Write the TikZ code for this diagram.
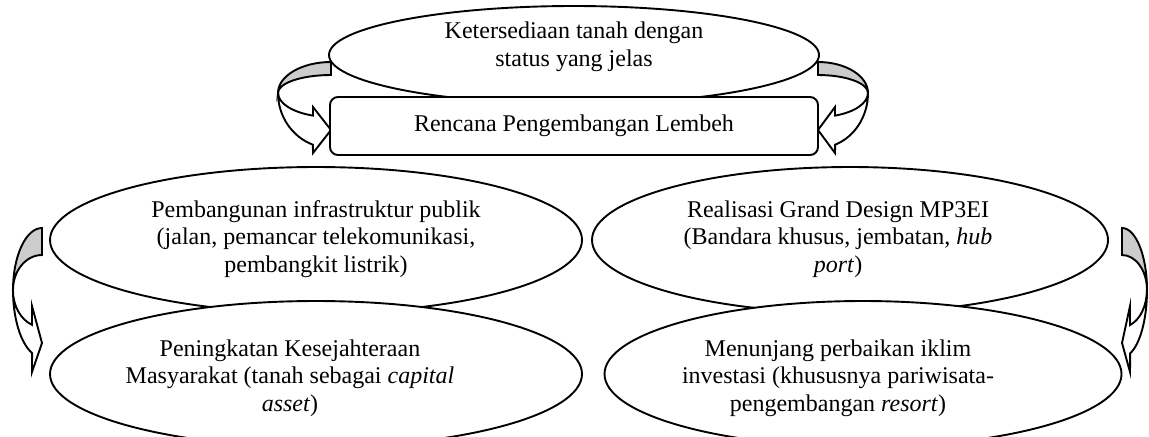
\documentclass[tikz,border=0pt]{standalone}
\usepackage{fontspec}
\setmainfont{Liberation Serif}
\usetikzlibrary{shapes.geometric}

\newlength{\du}
\setlength{\du}{0.5pt}
\definecolor{dialinecolor}{rgb}{0.000000, 0.000000, 0.000000}
\definecolor{shadecolor}{rgb}{0.800000, 0.800000, 0.800000}
\tikzset{
  oval/.style={ellipse, draw=dialinecolor, fill=white, line width=1.9\du, inner sep=0pt},
  plan/.style={rectangle, rounded corners=8\du, draw=dialinecolor, fill=white, line width=1.9\du, inner sep=0pt, font=\fontsize{12pt}{13.8pt}\selectfont},
  txt/.style={align=center, inner sep=0pt, font=\fontsize{12pt}{13.8pt}\selectfont},
  ribbon/.style={draw=dialinecolor, line width=1.9\du, line join=miter},
}

\begin{document}
\begin{tikzpicture}
\pgftransformxscale{1.000000}
\pgftransformyscale{-1.000000}
\useasboundingbox (0\du,0\du) rectangle (1149\du,436\du);
\clip (0\du,0\du) rectangle (1149\du,436\du);
% curved arrow, top left
\filldraw[ribbon, fill=shadecolor] (331\du,62\du) arc[start angle=270, end angle=180, x radius=53\du, y radius=31\du] arc[start angle=180, end angle=270, x radius=53\du, y radius=18\du] -- cycle;
\filldraw[ribbon, fill=white] (278\du,93\du) arc[start angle=180, end angle=110, x radius=53\du, y radius=55\du] -- (313\du,153\du) -- (331\du,130\du) -- (313\du,107\du) -- (313\du,115.6\du) arc[start angle=110, end angle=180, x radius=53\du, y radius=24\du] -- cycle;
% curved arrow, top right
\filldraw[ribbon, fill=shadecolor] (818\du,62\du) arc[start angle=270, end angle=360, x radius=50\du, y radius=31\du] arc[start angle=360, end angle=270, x radius=50\du, y radius=18\du] -- cycle;
\filldraw[ribbon, fill=white] (868\du,93\du) arc[start angle=0, end angle=70, x radius=50\du, y radius=55\du] -- (835\du,153\du) -- (818\du,130\du) -- (835\du,107\du) -- (835\du,115.6\du) arc[start angle=70, end angle=0, x radius=50\du, y radius=24\du] -- cycle;
% curved arrow, bottom left
\filldraw[ribbon, fill=shadecolor] (42\du,228\du) arc[start angle=270, end angle=180, x radius=29\du, y radius=62\du] arc[start angle=180, end angle=270, x radius=29\du, y radius=35\du] -- cycle;
\filldraw[ribbon, fill=white] (13\du,290\du) arc[start angle=180, end angle=110, x radius=29\du, y radius=67\du] -- (32\du,372\du) -- (42\du,343\du) -- (32\du,306\du) -- (32\du,324.8\du) arc[start angle=110, end angle=180, x radius=29\du, y radius=37\du] -- cycle;
% curved arrow, bottom right
\filldraw[ribbon, fill=shadecolor] (1122\du,228\du) arc[start angle=270, end angle=360, x radius=25\du, y radius=62\du] arc[start angle=360, end angle=270, x radius=25\du, y radius=35\du] -- cycle;
\filldraw[ribbon, fill=white] (1147\du,290\du) arc[start angle=0, end angle=71, x radius=25\du, y radius=67\du] -- (1130\du,372\du) -- (1122\du,343\du) -- (1130\du,306\du) -- (1130\du,325\du) arc[start angle=71, end angle=0, x radius=25\du, y radius=37\du] -- cycle;
% top block
\node[oval, minimum width=490\du, minimum height=98\du] (ket) at (574\du,55\du) {};
\node[txt] (ket-t) at (574\du,47\du) {Ketersediaan tanah dengan\\status yang jelas};
\node[plan, minimum width=488\du, minimum height=58\du] (ren) at (574\du,126\du) {Rencana Pengembangan Lembeh};
% upper ovals
\node[oval, minimum width=532\du, minimum height=146\du] (pem) at (316\du,240\du) {};
\node[txt] (pem-t) at ([yshift=-1\du]pem.center) {Pembangunan infrastruktur publik\\(jalan, pemancar telekomunikasi,\\pembangkit listrik)};
\node[oval, minimum width=516\du, minimum height=146\du] (real) at (850\du,240\du) {};
\node[txt] (real-t) at ([xshift=-12\du,yshift=-1\du]real.center) {Realisasi Grand Design MP3EI\\(Bandara khusus, jembatan, \textit{hub}\\\textit{port})};
% lower ovals
\node[oval, minimum width=532\du, minimum height=146\du] (pen) at (316\du,374\du) {};
\node[txt] (pen-t) at (290\du,378\du) {Peningkatan Kesejahteraan\\Masyarakat (tanah sebagai \textit{capital}\\\textit{asset})};
\node[oval, minimum width=517\du, minimum height=146\du] (men) at (863\du,374\du) {};
\node[txt] (men-t) at (838\du,378\du) {Menunjang perbaikan iklim\\investasi (khususnya pariwisata-\\pengembangan \textit{resort})};
\end{tikzpicture}
\end{document}
